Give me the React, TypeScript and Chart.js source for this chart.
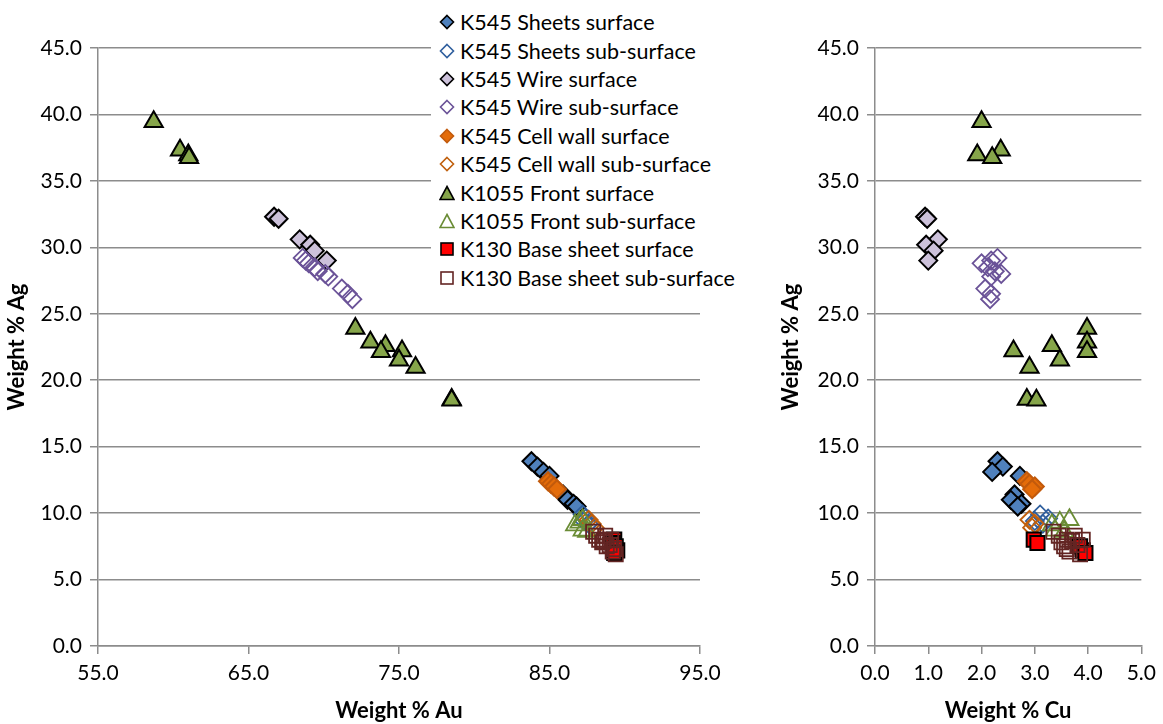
import React, { useEffect, useRef } from "react";
import { Chart, registerables } from "chart.js";

Chart.register(...registerables);

// ---------- DATA (Au, Cu, Ag weight %) ----------
const seriesNames = [
  "K545 Sheets surface",
  "K545 Sheets sub-surface",
  "K545 Wire surface",
  "K545 Wire sub-surface",
  "K545 Cell wall surface",
  "K545 Cell wall sub-surface",
  "K1055 Front surface",
  "K1055 Front sub-surface",
  "K130 Base sheet surface",
  "K130 Base sheet sub-surface",
];

const sheetsSurfAu = [83.8, 84.2, 84.6, 85.0, 85.9, 86.2, 86.6, 86.8];
const sheetsSurfCu = [2.3, 2.4, 2.2, 2.72, 2.62, 2.55, 2.75, 2.68];
const sheetsSurfAg = [13.9, 13.5, 13.1, 12.8, 11.4, 11.0, 10.7, 10.5];

const sheetsSubAu = [87.2, 87.4, 87.3, 87.6];
const sheetsSubCu = [3.1, 3.25, 3.0, 3.15];
const sheetsSubAg = [9.9, 9.6, 9.4, 9.2];

const wireSurfAu = [66.7, 67.0, 68.4, 69.1, 69.4, 70.2];
const wireSurfCu = [0.94, 0.98, 1.18, 0.96, 1.1, 1.0];
const wireSurfAg = [32.3, 32.15, 30.6, 30.2, 29.75, 29.0];

const wireSubAu = [68.6, 68.8, 69.0, 69.4, 69.6, 70.1, 70.3, 71.2, 71.6, 71.9];
const wireSubCu = [2.3, 2.18, 2.0, 2.12, 2.25, 2.37, 2.18, 2.07, 2.18, 2.16];
const wireSubAg = [29.2, 29.0, 28.8, 28.5, 28.2, 28.0, 27.8, 26.9, 26.5, 26.1];

const cellSurfAu = [84.9, 85.1, 85.3, 85.5];
const cellSurfCu = [2.85, 2.9, 3.0, 2.95];
const cellSurfAg = [12.4, 12.2, 12.0, 11.8];

const cellSubAu = [87.6, 87.8, 88.0];
const cellSubCu = [2.9, 3.0, 2.95];
const cellSubAg = [9.5, 9.2, 8.9];

const frontSurfAu = [58.7, 60.45, 61.0, 61.05, 72.1, 73.1, 74.1, 73.8, 75.2, 75.0, 76.1, 78.5, 78.5];
const frontSurfCu = [2.0, 2.36, 1.92, 2.2, 3.98, 3.98, 3.32, 3.98, 2.6, 3.47, 2.9, 2.85, 3.03];
const frontSurfAg = [39.45, 37.3, 36.95, 36.75, 23.9, 22.85, 22.6, 22.15, 22.2, 21.5, 20.95, 18.55, 18.5];

const frontSubAu = [86.7, 87.0, 87.2, 87.2, 87.5];
const frontSubCu = [3.32, 3.47, 3.65, 3.38, 3.55];
const frontSubAg = [9.1, 9.3, 9.5, 8.7, 8.6];

const baseSurfAu = [89.3, 89.2, 89.5, 89.4, 89.3];
const baseSurfCu = [2.98, 3.05, 3.9, 3.85, 3.95];
const baseSurfAg = [8.0, 7.75, 7.2, 7.5, 7.0];

const baseSubAu = [87.9, 88.1, 88.3, 88.5, 88.6, 88.8, 89.0, 89.2, 89.4, 88.7, 89.1, 89.3];
const baseSubCu = [3.35, 3.45, 3.6, 3.5, 3.7, 3.55, 3.8, 3.65, 3.85, 3.75, 3.9, 3.6];
const baseSubAg = [8.6, 8.3, 8.0, 7.8, 7.9, 7.5, 7.6, 7.1, 6.9, 8.3, 8.0, 7.3];

const auTicks = { min: 55, max: 95, step: 10 };
const cuTicks = { min: 0, max: 5, step: 1 };
const agTicks = { min: 0, max: 45, step: 5 };

// ---------- STYLES ----------
type Style = { shape: "rectRot" | "triangle" | "rect"; fill: string; border: string; bw: number; r: number };
const styles: Style[] = [
  { shape: "rectRot", fill: "#4F81BD", border: "#000000", bw: 2, r: 9 },
  { shape: "rectRot", fill: "rgba(0,0,0,0)", border: "#2F5F9E", bw: 1.8, r: 9 },
  { shape: "rectRot", fill: "#CCC1DA", border: "#000000", bw: 2, r: 9 },
  { shape: "rectRot", fill: "rgba(0,0,0,0)", border: "#6B5398", bw: 1.8, r: 9 },
  { shape: "rectRot", fill: "#E46C0A", border: "#C25A0C", bw: 2, r: 9 },
  { shape: "rectRot", fill: "rgba(0,0,0,0)", border: "#C0600E", bw: 1.8, r: 9 },
  { shape: "triangle", fill: "#86A54A", border: "#000000", bw: 2, r: 10.5 },
  { shape: "triangle", fill: "rgba(0,0,0,0)", border: "#6A8C35", bw: 1.8, r: 10.5 },
  { shape: "rect", fill: "#FF0000", border: "#000000", bw: 2, r: 10 },
  { shape: "rect", fill: "rgba(0,0,0,0)", border: "#632523", bw: 1.8, r: 10 },
];

const seriesData: { au: number[]; cu: number[]; ag: number[] }[] = [
  { au: sheetsSurfAu, cu: sheetsSurfCu, ag: sheetsSurfAg },
  { au: sheetsSubAu, cu: sheetsSubCu, ag: sheetsSubAg },
  { au: wireSurfAu, cu: wireSurfCu, ag: wireSurfAg },
  { au: wireSubAu, cu: wireSubCu, ag: wireSubAg },
  { au: cellSurfAu, cu: cellSurfCu, ag: cellSurfAg },
  { au: cellSubAu, cu: cellSubCu, ag: cellSubAg },
  { au: frontSurfAu, cu: frontSurfCu, ag: frontSurfAg },
  { au: frontSubAu, cu: frontSubCu, ag: frontSubAg },
  { au: baseSurfAu, cu: baseSurfCu, ag: baseSurfAg },
  { au: baseSubAu, cu: baseSubCu, ag: baseSubAg },
];

const FONT = "Lato, 'Open Sans', sans-serif";
const GRID = "#8C8C8C";

function makeDatasets(xKey: "au" | "cu") {
  return seriesNames.map((name, i) => {
    const s = seriesData[i];
    const st = styles[i];
    return {
      label: name,
      data: s[xKey].map((x, j) => ({ x, y: s.ag[j] })),
      pointStyle: st.shape,
      pointRadius: st.r,
      pointBackgroundColor: st.fill,
      pointBorderColor: st.border,
      pointBorderWidth: st.bw,
      showLine: false,
      order: seriesNames.length - i,
    };
  });
}

function makeOptions(
  xr: { min: number; max: number; step: number },
  xTitle: string,
  yWidth: number,
  yTitlePad: number,
  padRight: number
) {
  const tickFont = { family: FONT, size: 21 };
  const titleFont = { family: FONT, size: 22, weight: "bold" as const };
  return {
    animation: false,
    responsive: false,
    maintainAspectRatio: false,
    events: [],
    layout: { padding: { top: 48, left: 0, right: padRight, bottom: 0 } },
    plugins: { legend: { display: false }, tooltip: { enabled: false } },
    scales: {
      x: {
        type: "linear",
        min: xr.min,
        max: xr.max,
        ticks: {
          stepSize: xr.step,
          autoSkip: false,
          maxRotation: 0,
          color: "#000",
          font: tickFont,
          padding: 7,
          callback: (v: number) => Number(v).toFixed(1),
        },
        grid: { drawOnChartArea: false, drawTicks: true, tickLength: 8, color: GRID, lineWidth: 1.5 },
        border: { display: true, color: GRID, width: 1.5 },
        title: { display: true, text: xTitle, color: "#000", font: titleFont, padding: { top: -5, bottom: 0 } },
        afterFit: (s: any) => {
          s.height = 78;
        },
      },
      y: {
        type: "linear",
        min: agTicks.min,
        max: agTicks.max,
        ticks: {
          stepSize: agTicks.step,
          autoSkip: false,
          color: "#000",
          font: tickFont,
          padding: 8,
          callback: (v: number) => Number(v).toFixed(1),
        },
        grid: { drawOnChartArea: true, drawTicks: true, tickLength: 8, color: GRID, lineWidth: 1.5 },
        border: { display: true, color: GRID, width: 1.5 },
        title: {
          display: true,
          text: "Weight % Ag",
          color: "#000",
          font: titleFont,
          padding: { top: yTitlePad, bottom: 0 },
        },
        afterFit: (s: any) => {
          s.width = yWidth;
        },
      },
    },
  };
}

function Marker({ i }: { i: number }) {
  const st = styles[i];
  const fill = st.fill.startsWith("rgba") ? "#FFFFFF" : st.fill;
  const common = { fill, stroke: st.border, strokeWidth: 1.6 } as any;
  let shape;
  if (st.shape === "rectRot") shape = <polygon points="8,1.5 14.5,8 8,14.5 1.5,8" {...common} />;
  else if (st.shape === "triangle") shape = <polygon points="8,1.5 15,14.5 1,14.5" {...common} />;
  else shape = <rect x="2" y="2" width="12" height="12" {...common} />;
  return (
    <svg width="16" height="16" style={{ display: "block", flex: "0 0 16px" }}>
      {shape}
    </svg>
  );
}

export default function App() {
  const leftRef = useRef<HTMLCanvasElement>(null);
  const rightRef = useRef<HTMLCanvasElement>(null);

  useEffect(() => {
    const left = new Chart(leftRef.current as HTMLCanvasElement, {
      type: "scatter",
      data: { datasets: makeDatasets("au") as any },
      options: makeOptions(auTicks, "Weight % Au", 98, 4, 40) as any,
    });
    const right = new Chart(rightRef.current as HTMLCanvasElement, {
      type: "scatter",
      data: { datasets: makeDatasets("cu") as any },
      options: makeOptions(cuTicks, "Weight % Cu", 135, 38, 17) as any,
    });
    return () => {
      left.destroy();
      right.destroy();
    };
  }, []);

  return (
    <div style={{ position: "fixed", left: 0, top: 0, width: 1163, height: 724, background: "#fff", overflow: "hidden" }}>
      <canvas
        ref={leftRef}
        width={740}
        height={724}
        style={{ position: "absolute", left: 0, top: 0, width: 740, height: 724 }}
      />
      <canvas
        ref={rightRef}
        width={423}
        height={724}
        style={{ position: "absolute", left: 740, top: 0, width: 423, height: 724 }}
      />
      <div
        style={{
          position: "absolute",
          left: 431,
          top: 8,
          width: 320,
          height: 286,
          background: "#fff",
          fontFamily: FONT,
          fontSize: 21.5,
          color: "#000",
        }}
      >
        {seriesNames.map((n, i) => (
          <div
            key={n}
            style={{ display: "flex", alignItems: "center", height: 28.4, whiteSpace: "nowrap" }}
          >
            <div style={{ width: 8 }} />
            <Marker i={i} />
            <span style={{ marginLeft: 5 }}>{n}</span>
          </div>
        ))}
      </div>
    </div>
  );
}
